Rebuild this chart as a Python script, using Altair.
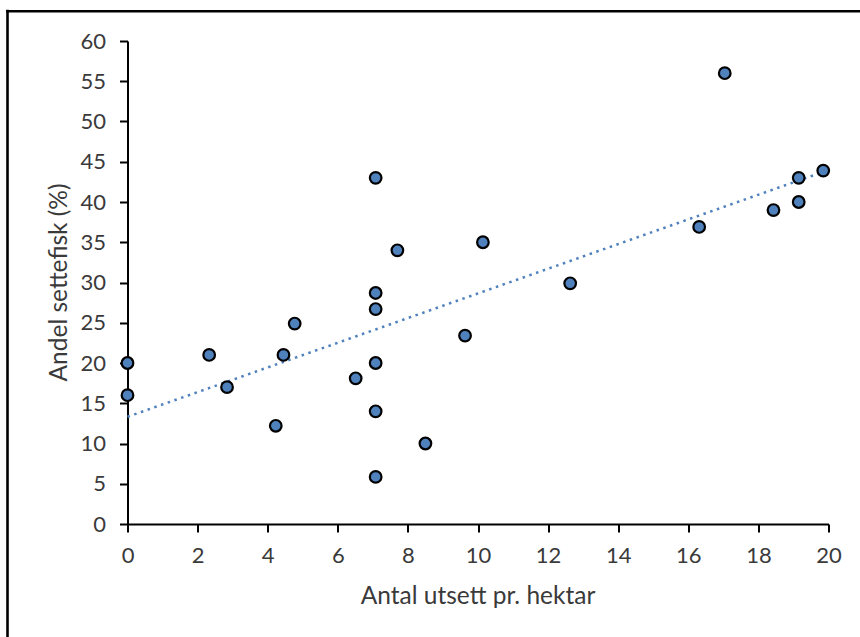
import altair as alt
import pandas as pd

# Data
antal = [0, 0, 2.33, 2.84, 4.23, 4.45, 4.77, 6.51, 7.08, 7.08, 7.08, 7.08, 7.08, 7.08,
         7.70, 8.50, 9.63, 10.14, 12.63, 16.31, 17.04, 18.43, 19.15, 19.15, 19.85]
andel = [20.0, 16.0, 21.0, 17.0, 12.2, 21.0, 24.9, 18.1, 43.0, 28.7, 26.7, 20.0, 14.0, 5.85,
         34.0, 10.0, 23.4, 35.0, 29.9, 36.9, 56.0, 39.0, 43.0, 40.0, 43.9]

x_ticks = list(range(0, 21, 2))
y_ticks = list(range(0, 61, 5))

df = pd.DataFrame({"x": antal, "y": andel})

BLUE = "#4F81BD"
TXT = "#3a3a3a"
FONT = "Lato"

xs = alt.X("x:Q", scale=alt.Scale(domain=[0, 20], nice=False, zero=False),
           axis=alt.Axis(values=x_ticks, title="Antal utsett pr. hektar", grid=False,
                         domainColor="black", domainWidth=2, tickColor="black", tickWidth=2,
                         tickSize=8, labelPadding=13, labelFontSize=22, labelFont=FONT,
                         labelColor=TXT, titleFont=FONT, titleFontSize=24.5, titleColor=TXT,
                         titleFontWeight="normal", titleX=350, titleY=79,
                         titleBaseline="alphabetic", titleAlign="center",
                         labelFlush=False, labelOverlap=False))
ys = alt.Y("y:Q", scale=alt.Scale(domain=[0, 60], nice=False),
           axis=alt.Axis(values=y_ticks, title="Andel settefisk (%)", grid=False,
                         domainColor="black", domainWidth=2, tickColor="black", tickWidth=2,
                         tickSize=8, labelPadding=14, labelFontSize=22, labelFont=FONT,
                         labelColor=TXT, titleFont=FONT, titleFontSize=24.5, titleColor=TXT,
                         titleFontWeight="normal", titleX=-61, titleY=241, titleAngle=270,
                         titleBaseline="alphabetic", titleAlign="center",
                         labelFlush=False, labelOverlap=False))

trend = alt.Chart(df).transform_regression("x", "y").mark_line(
    color=BLUE, strokeWidth=2.5, strokeDash=[2.5, 4.6], strokeCap="butt"
).encode(x=xs, y=ys)

points = alt.Chart(df).mark_point(
    shape="circle", filled=True, fill=BLUE, stroke="black", strokeWidth=2.2,
    size=135, opacity=1
).encode(x=xs, y=ys)

one = pd.DataFrame({"a": [0]})
frame_left = alt.Chart(one).mark_rule(color="black", strokeWidth=2.6).encode(
    x=alt.value(-120), y=alt.value(-31.3), y2=alt.value(700))
frame_top = alt.Chart(one).mark_rule(color="black", strokeWidth=2.6).encode(
    x=alt.value(-121.3), x2=alt.value(800), y=alt.value(-29.8))

chart = alt.layer(frame_left, frame_top, trend, points).properties(
    width=701, height=483,
    autosize=alt.AutoSizeParams(type="none"),
    padding={"left": 127.5, "top": 41, "right": 31.5, "bottom": 113},
    background="white",
).configure_view(stroke=None)

chart.save("out.html", embed_options={"renderer": "svg", "actions": False})
